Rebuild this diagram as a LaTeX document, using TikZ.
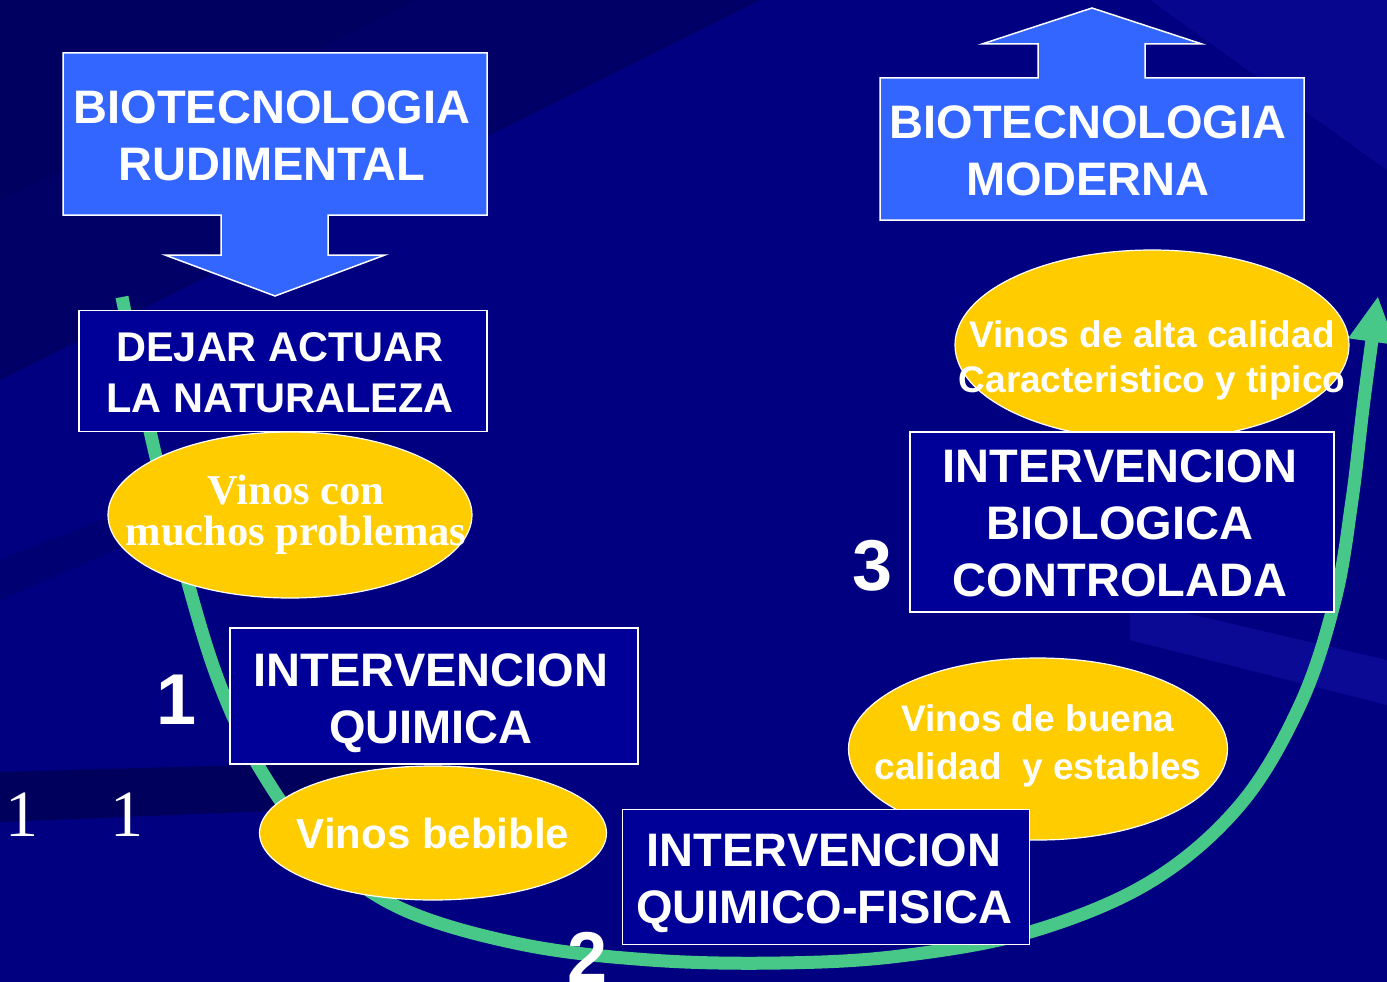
\documentclass[tikz,border=0pt]{standalone}
\usepackage{fontspec}
\setmainfont{Liberation Sans}
\newfontfamily\timesfont{Liberation Serif}
\usetikzlibrary{arrows.meta,shapes.geometric}
\definecolor{navy}{RGB}{0,0,128}
\definecolor{navydark}{RGB}{0,0,92}
\definecolor{navylight}{RGB}{20,20,170}
\definecolor{boxblue}{RGB}{51,102,255}
\definecolor{boxdark}{RGB}{0,0,153}
\definecolor{gold}{RGB}{255,204,0}
\definecolor{leaf}{RGB}{72,200,136}
\begin{document}
\begin{tikzpicture}[x=1pt, y=-1pt,
    darkbox/.style={fill=boxdark, draw=white, line width=1.5pt, align=center, text=white,
        inner sep=0pt, font=\bfseries\fontsize{47}{57}\selectfont},
    oval/.style={ellipse, fill=gold, draw=white, line width=1.2pt, inner sep=0pt},
    ovaltext/.style={text=white, align=center, inner sep=0pt},
    bluearrow/.style={fill=boxblue, draw=white, line width=1.5pt},
    num/.style={text=white, inner sep=0pt, font=\bfseries\fontsize{72}{72}\selectfont}]
% background
\useasboundingbox (0,0) rectangle (1387,982);
\fill[navy] (0,0) rectangle (1387,982);
\fill[navydark, opacity=.7] (0,0) -- (760,0) -- (0,380) -- cycle;
\fill[navydark, opacity=.5] (0,0) -- (420,0) -- (0,200) -- cycle;
\fill[navydark, opacity=.35] (0,560) -- (480,370) -- (480,392) -- (0,600) -- cycle;
\fill[navydark] (0,772) -- (420,760) -- (420,805) -- (0,822) -- cycle;
\fill[navylight, opacity=.5] (1130,600) -- (1387,660) -- (1387,705) -- (1130,640) -- cycle;
\fill[navylight, opacity=.35] (1150,0) -- (1387,0) -- (1387,170) -- cycle;
% green curve
\coordinate (start) at (122,297);
\coordinate (tip) at (1378,296);
\draw[leaf, line width=13pt, -{Triangle[length=46pt,width=44pt]}]
    plot[smooth, tension=.6] coordinates {(start) (152,440) (190,590) (222,690)
    (262,772) (320,850) (400,908) (520,944) (650,960) (780,963) (900,956)
    (1030,932) (1150,882) (1240,805) (1300,705) (1335,600) (1352,500)
    (1364,400) (tip)};
% blue arrows
\draw[bluearrow] (63,53) -- (487,53) -- (487,215) -- (328,215) -- (328,255) -- (385,255)
    -- (275,296) -- (165,255) -- (221,255) -- (221,215) -- (63,215) -- cycle;
\node[text=white, align=center, font=\bfseries\fontsize{47}{57}\selectfont] (rudimental)
    at (272,136) {BIOTECNOLOGIA\\RUDIMENTAL};
\draw[bluearrow] (880,78) -- (1038,78) -- (1038,44) -- (982,44) -- (1092,8) -- (1202,44)
    -- (1145,44) -- (1145,78) -- (1304,78) -- (1304,220) -- (880,220) -- cycle;
\node[text=white, align=center, font=\bfseries\fontsize{47}{57}\selectfont] (moderna)
    at (1088,151) {BIOTECNOLOGIA\\MODERNA};
% ovals
\node[oval, minimum width=364, minimum height=166] (problemas) at (290,515) {};
\node[ovaltext, font=\timesfont\bfseries\fontsize{42.5}{41}\selectfont] at ([xshift=6]problemas.center)
    {Vinos con\\muchos problemas};
\node[oval, minimum width=347, minimum height=134] (bebible) at (433,833) {};
\node[ovaltext, font=\bfseries\fontsize{42}{48}\selectfont] at (bebible.center) {Vinos bebible};
\node[oval, minimum width=379, minimum height=182] (buena) at (1038,749) {};
\node[ovaltext, font=\bfseries\fontsize{37}{48}\selectfont] at ([yshift=3]buena.center)
    {Vinos de buena\\calidad\ \ y estables};
\node[oval, minimum width=394, minimum height=190] (alta) at (1152,345) {};
\node[ovaltext, font=\bfseries\fontsize{37}{45}\selectfont] at ([yshift=-15]alta.center)
    {Vinos de alta calidad\\Caracteristico y tipico};
% dark boxes
\node[darkbox, minimum width=408, minimum height=121] (naturaleza) at (283,371) {};
\node[text=white, align=center, inner sep=0pt, font=\bfseries\fontsize{41.5}{51}\selectfont]
    at ([xshift=-3,yshift=-2]naturaleza.center) {DEJAR ACTUAR\\LA NATURALEZA};
\node[darkbox, minimum width=408, minimum height=136] (quimica) at (434,696) {};
\node[darkbox, draw=none, fill=none] at ([xshift=-3,yshift=-7]quimica.center) {INTERVENCION\\QUIMICA};
\node[darkbox, minimum width=424, minimum height=180] (biologica) at (1122,522) {};
\node[darkbox, draw=none, fill=none] at ([xshift=-2,yshift=-1]biologica.center)
    {INTERVENCION\\BIOLOGICA\\CONTROLADA};
\node[darkbox, minimum width=407, minimum height=135] (fisica) at (826,877) {};
\node[darkbox, draw=none, fill=none] at ([xshift=-2,yshift=-6]fisica.center)
    {INTERVENCION\\QUIMICO-FISICA};
% numbers
\node[num] (n1) at (177,700) {1};
\node[num] (n2) at (588,957) {2};
\node[num] (n3) at (873,566) {3};
\foreach \x/\name in {22/a,127/b}
    \node[text=white, inner sep=0pt, font=\timesfont\fontsize{66}{66}\selectfont] (one\name) at (\x,815) {1};
\end{tikzpicture}
\end{document}
